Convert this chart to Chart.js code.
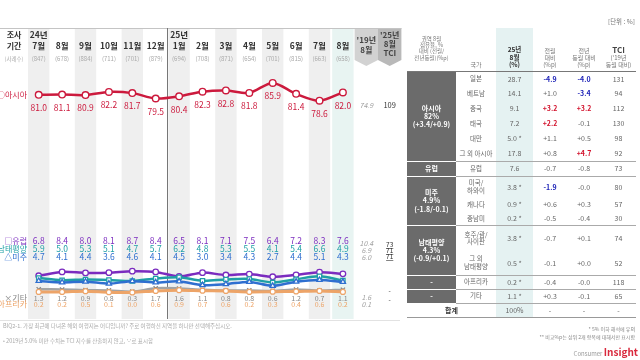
<!DOCTYPE html>
<html><head><meta charset="utf-8">
<script src="https://cdn.jsdelivr.net/npm/chart.js@4.4.1/dist/chart.umd.min.js"></script>
<style>
body{margin:0;width:640px;height:360px;overflow:hidden;background:#fff;font-family:'Noto Sans CJK KR','Noto Sans',sans-serif;}
#wrap{position:relative;width:640px;height:360px;}
canvas{position:absolute;left:0;top:0;}
#tbl{position:absolute;left:407px;top:28px;border-collapse:collapse;table-layout:fixed;font-size:7px;color:#666;z-index:2;}
#tbl td{padding:0;text-align:center;vertical-align:middle;line-height:1.15;white-space:pre-line;overflow:hidden;}
#tbl td.grp{background:#6b6b6b;color:#fff;font-weight:bold;border-bottom:1.5px solid #fff;font-size:7px;}
#tbl td.c{background:#e5f2f2;}
#tbl tr.hd td{vertical-align:bottom;padding-bottom:2px;font-size:6px;color:#777;border-bottom:1px solid #777;}
#tbl tr.gs td.n{border-top:1px solid #aaa;}
.unit{position:absolute;right:5px;top:16px;font-size:6.5px;color:#777;}
.fn{position:absolute;right:5px;font-size:5px;color:#888;text-align:right;}
.logo{position:absolute;right:2px;top:344px;font-size:6px;color:#999;}
.logo b{color:#d9283c;font-size:10px;font-weight:bold;}
</style></head>
<body><div id="wrap">
<canvas id="c" width="640" height="360"></canvas>
<div class="unit">[단위 : %]</div>
<table id="tbl"></table>
<div class="fn" style="top:325px">* 5% 이하 해석에 유의</div>
<div class="fn" style="top:333px">** 비교%p는 상위 2개 항목에 대해서만 표시함</div>
<div class="logo">Consumer <b>Insight</b></div>
</div>
<script>
// ---------- chart data ----------
const months  = ['7월','8월','9월','10월','11월','12월','1월','2월','3월','4월','5월','6월','7월','8월'];
const years   = ['24년','','','','','','25년','','','','','','',''];
const samples = ['(847)','(678)','(884)','(711)','(701)','(879)','(694)','(708)','(871)','(654)','(701)','(815)','(663)','(658)'];
const asia     = [81.0,81.1,80.9,82.2,81.7,79.5,80.4,82.3,82.8,81.8,85.9,81.4,78.6,82.0];
const europe   = [6.8,8.4,8.0,8.1,8.7,8.4,6.5,8.1,7.1,7.5,6.4,7.2,8.3,7.6];
const pacific  = [5.9,5.0,5.3,5.1,4.7,5.7,6.2,4.8,5.3,5.5,4.1,5.4,6.6,4.9];
const americas = [4.7,4.1,4.4,3.6,4.6,4.1,4.5,3.0,3.4,4.3,2.7,4.4,5.1,4.3];
const others   = [1.3,1.2,0.9,0.8,0.3,1.7,1.6,1.1,0.8,0.8,0.6,1.2,0.7,1.1];
const africa   = [0.2,0.2,0.5,0.1,0.0,0.6,0.9,0.7,0.6,0.2,0.3,0.4,0.6,0.2];
const seriesNames = ['○아시아','□유럽','남태평양','△미주','×기타','아프리카'];
const base2019 = ['74.9','10.4','6.9','6.0','1.6','0.1'];
const tci2025  = ['109','73','71','71','-','-'];

// ---------- table data ----------
const groupNames = ['아시아\n82%\n(+3.4/+0.9)','유럽','미주\n4.9%\n(-1.8/-0.1)','남태평양\n4.3%\n(-0.9/+0.1)','-','-'];
const groupSizes = [6,1,3,2,1,1];
const countries = ['일본','베트남','중국','태국','대만','그 외 아시아','유럽','미국/\n하와이','캐나다','중남미','호주/괌/\n사이판','그 외\n남태평양','아프리카','기타'];
const share     = ['28.7','14.1','9.1','7.2','5.0 *','17.8','7.6','3.8 *','0.9 *','0.2 *','3.8 *','0.5 *','0.2 *','1.1 *'];
const momDiff   = [-4.9,1.0,3.2,2.2,1.1,0.8,-0.7,-1.9,0.6,-0.5,-0.7,-0.1,-0.4,0.3];
const yoyDiff   = [-4.0,-3.4,3.2,-0.1,0.5,4.7,-0.8,-0.0,0.3,-0.4,0.1,0.0,-0.0,-0.1];
const yoyText   = ['-4.0','-3.4','+3.2','-0.1','+0.5','+4.7','-0.8','-0.0','+0.3','-0.4','+0.1','+0.0','-0.0','-0.1'];
const tciTable  = ['131','94','112','130','98','92','73','80','57','30','74','52','118','65'];
const headers   = ['권역 8월\n점유율, %\n대비 (전월/\n전년동월)(%p)','국가','25년\n8월\n(%)','전월\n대비\n(%p)','전년\n동월 대비\n(%p)','TCI\n(\'19년\n동월 대비)'];
const rowH = [15,15,15,15,15,15,15,21,15,13,26,24,14,14];

// build table
(function(){
  const t = document.getElementById('tbl');
  const widths=[49,40,37,34,34,35];
  let h='<colgroup>'+widths.map(w=>'<col style="width:'+w+'px">').join('')+'</colgroup>';
  h+='<tr class="hd" style="height:43px">'+headers.map((x,i)=>{
    let s='';
    if(i===0) s='font-size:5.5px;vertical-align:middle;';
    if(i===2) s='font-size:6.5px;color:#333;font-weight:bold;';
    if(i===5) s='font-size:6px;';
    return '<td style="'+s+'"'+(i===2?' class="c"':'')+'>'+(i===5?'<b style="font-size:8px;color:#444">TCI</b>\n(\'19년\n동월 대비)':x)+'</td>';
  }).join('')+'</tr>';
  const fmt=v=>(v>=0?'+':'')+v.toFixed(1);
  const col=v=>Math.abs(v)>=1.5?(v<0?'color:#1f24b8;font-weight:bold;':'color:#d3142e;font-weight:bold;'):'';
  let r=0;
  groupNames.forEach((g,gi)=>{
    for(let k=0;k<groupSizes[gi];k++){
      const i=r;
      h+='<tr class="'+(k===0&&gi>0?'gs':'')+'" style="height:'+rowH[i]+'px">';
      if(k===0) h+='<td class="grp" rowspan="'+groupSizes[gi]+'">'+g+'</td>';
      h+='<td class="n" style="font-size:6.5px">'+countries[i]+'</td>';
      h+='<td class="n c">'+share[i]+'</td>';
      h+='<td class="n" style="'+col(momDiff[i])+'">'+fmt(momDiff[i])+'</td>';
      h+='<td class="n" style="'+col(yoyDiff[i])+'">'+yoyText[i]+'</td>';
      h+='<td class="n">'+tciTable[i]+'</td></tr>';
      r++;
    }
  });
  h+='<tr class="gs" style="height:14px"><td class="n" colspan="2" style="font-weight:bold;color:#333;">합계</td><td class="n c">100%</td><td class="n">-</td><td class="n">-</td><td class="n">-</td></tr>';
  t.innerHTML=h;
  t.querySelectorAll('tr:last-child td').forEach(td=>td.style.borderBottom='1px solid #999');
})();

// ---------- chart ----------
const labels = months.concat(["'19년 8월","'25년 8월 TCI"]);
const pad = a => a.concat([null,null]);
const FONT = "'Noto Sans CJK KR','Noto Sans',sans-serif";
const C = {asia:'#cc1a3d',europe:'#7b2cbf',pacific:'#1f9fa6',americas:'#2f6fd0',others:'#a3a3a3',africa:'#eda468'};

const deco = {
  id:'deco',
  beforeDatasetsDraw(chart){
    const {ctx, scales:{x}} = chart;
    const w = x.getPixelForValue(1)-x.getPixelForValue(0);
    ctx.save();
    for(let i=0;i<14;i++){
      const cx=x.getPixelForValue(i);
      if(i===13) ctx.fillStyle='#e8f4f2';
      else if(i%2===0) ctx.fillStyle='#efefef';
      else continue;
      ctx.fillRect(cx-w/2+1,28,w-2,291);
    }
    [[14,'#d2d2d2'],[15,'#b9b9b9']].forEach(([i,c])=>{
      const cx=x.getPixelForValue(i),l=cx-w/2,r=cx+w/2;
      ctx.fillStyle=c;ctx.beginPath();
      ctx.moveTo(l,28);ctx.lineTo(r,28);ctx.lineTo(r,60);ctx.lineTo(cx,66);ctx.lineTo(l,60);ctx.closePath();ctx.fill();
    });
    ctx.strokeStyle='#c4c4c4';ctx.lineWidth=1;
    ctx.beginPath();ctx.moveTo(0,28.5);ctx.lineTo(x.getPixelForValue(15)+w/2,28.5);ctx.stroke();
    ctx.strokeStyle='#e2e2e2';
    ctx.beginPath();ctx.moveTo(0,320.5);ctx.lineTo(400,320.5);ctx.stroke();
    const vx=Math.round((x.getPixelForValue(5)+x.getPixelForValue(6))/2)+0.5;
    ctx.strokeStyle='#777';
    ctx.beginPath();ctx.moveTo(vx,28);ctx.lineTo(vx,319);ctx.stroke();
    ctx.textAlign='center';ctx.textBaseline='middle';
    ctx.fillStyle='#333';
    ctx.font='bold 8px '+FONT;
    ctx.fillText('조사',14,35);ctx.fillText('기간',14,46);
    ctx.font='5.5px '+FONT;ctx.fillStyle='#aaa';ctx.fillText('(사례수)',14,59);
    for(let i=0;i<14;i++){
      const cx=x.getPixelForValue(i);
      ctx.fillStyle='#333';ctx.font='bold 8.5px '+FONT;
      if(years[i]) ctx.fillText(years[i],cx,35);
      ctx.fillText(months[i],cx,46);
      ctx.fillStyle='#aaa';ctx.font='6px '+FONT;
      ctx.fillText(samples[i],cx,59);
    }
    ctx.fillStyle='#444';ctx.font='bold 8px '+FONT;
    let cx=x.getPixelForValue(14);
    ctx.fillText("'19년",cx,40);ctx.fillText('8월',cx,50);
    cx=x.getPixelForValue(15);
    ctx.fillText("'25년",cx,35);ctx.fillText('8월',cx,44);ctx.fillText('TCI',cx,53);
    ctx.restore();
  },
  afterDatasetsDraw(chart){
    const {ctx, scales:{x}} = chart;
    ctx.save();
    ctx.textAlign='center';ctx.textBaseline='middle';
    const m0=chart.getDatasetMeta(chart.data.datasets.findIndex(d=>d.id==='asia'));
    ctx.font='8.5px '+FONT;ctx.fillStyle=C.asia;
    asia.forEach((v,i)=>ctx.fillText(v.toFixed(1),m0.data[i].x,m0.data[i].y+13));
    const rows=[[europe,C.europe,241],[pacific,C.pacific,249],[americas,C.americas,257],[others,'#888',298],[africa,C.africa,304]];
    rows.forEach(([arr,c,y],k)=>{
      ctx.fillStyle=c;ctx.font=(k<3?'8.5px ':'7px ')+FONT;
      arr.forEach((v,i)=>ctx.fillText(v.toFixed(1),x.getPixelForValue(i),y));
    });
    ctx.textAlign='right';
    const ly=[95,241,249,257,298,304];
    const lc=[C.asia,C.europe,C.pacific,C.americas,'#888',C.africa];
    seriesNames.forEach((n,i)=>{ctx.fillStyle=lc[i];ctx.font='8px '+FONT;ctx.fillText(n,27,ly[i]);});
    ctx.textAlign='center';
    const by=[105,243,250,257,297,304];
    const bx=x.getPixelForValue(14),tx=x.getPixelForValue(15);
    base2019.forEach((v,i)=>{ctx.fillStyle='#a0a0a0';ctx.font='italic 7px '+FONT;ctx.fillText(v,bx,by[i]);});
    const ty=[105,245,251,257,291,300];
    tci2025.forEach((v,i)=>{
      ctx.fillStyle='#333';ctx.font=(i===0?'7.5px ':'6.5px ')+FONT;
      ctx.fillText(v,tx,ty[i]);
      if(i>=1&&i<=3){const wd=ctx.measureText(v).width;ctx.fillRect(tx-wd/2,ty[i]+3,wd,0.6);}
    });
    ctx.textAlign='left';ctx.fillStyle='#aaa';ctx.font='5.5px '+FONT;
    ctx.fillText('BIQ2-1. 가장 최근에 다녀온 해외 여행지는 어디입니까? 주로 여행하신 지역을 하나만 선택해주십시오.',3,326);
    ctx.fillText("• 2019년 5.0% 미만 수치는 TCI 지수를 산출하지 않고, '-'로 표시함",3,341);
    ctx.restore();
  }
};

new Chart(document.getElementById('c'),{
  type:'line',
  data:{labels,datasets:[
    {id:'africa',data:pad(africa),borderColor:C.africa,borderWidth:3,pointRadius:2.5,pointBorderWidth:1.2,pointBackgroundColor:'#fff',pointBorderColor:C.africa,tension:0.3},
    {id:'others',data:pad(others),borderColor:C.others,borderWidth:2.5,pointStyle:'crossRot',pointRadius:3,pointBorderWidth:1.3,pointBorderColor:'#888',tension:0.3},
    {id:'americas',data:pad(americas),borderColor:C.americas,borderWidth:2.5,pointStyle:'triangle',pointRadius:3,pointBorderWidth:1.3,pointBackgroundColor:'#fff',pointBorderColor:C.americas,tension:0.3},
    {id:'pacific',data:pad(pacific),borderColor:C.pacific,borderWidth:2.5,pointStyle:'rect',pointRadius:3,pointBorderWidth:1.3,pointBackgroundColor:'#fff',pointBorderColor:C.pacific,tension:0.3},
    {id:'europe',data:pad(europe),borderColor:C.europe,borderWidth:2.5,pointRadius:2.8,pointBorderWidth:1.3,pointBackgroundColor:'#fff',pointBorderColor:C.europe,tension:0.3},
    {id:'asia',data:pad(asia),borderColor:C.asia,borderWidth:2.5,pointRadius:3.3,pointBorderWidth:1.4,pointBackgroundColor:'#fff',pointBorderColor:C.asia,tension:0.3}
  ]},
  options:{
    responsive:false,animation:false,devicePixelRatio:1,
    layout:{padding:{left:27,right:238.6,top:28,bottom:42}},
    plugins:{legend:{display:false},tooltip:{enabled:false}},
    scales:{
      x:{display:false,offset:true},
      y:{display:false,min:-10.5,max:108.4}
    }
  },
  plugins:[deco]
});
</script>
</body></html>
